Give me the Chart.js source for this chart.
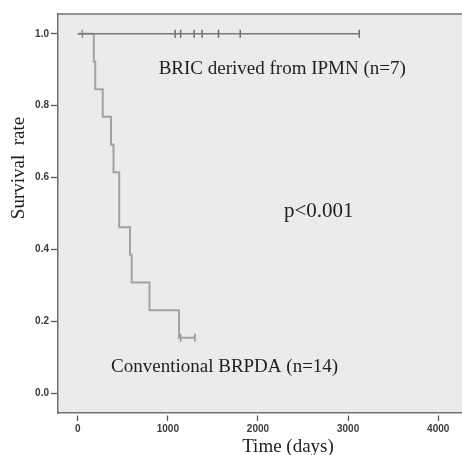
<!DOCTYPE html>
<html>
<head>
<style>
  html, body { margin: 0; padding: 0; background: #fff; overflow: hidden; }
</style>
</head>
<body>
<canvas id="kmChart" width="475" height="455"></canvas>

<script src="https://cdn.jsdelivr.net/npm/chart.js"></script>
<script>
// Kaplan-Meier values (days, survival)
const convTimes = [0, 178, 194, 277, 369, 397, 460, 580, 599, 796, 1124, 1300];
const convSurv = [1.0, 0.923, 0.846, 0.769, 0.692, 0.615, 0.462, 0.385, 0.308, 0.231, 0.154, 0.154];
const convCensorTimes = [51, 1142, 1300];
const convCensorSurv = [1.0, 0.154, 0.154];

const bricTimes = [0, 3124];
const bricSurv = [1.0, 1.0];
const bricCensorTimes = [1081, 1142, 1292, 1380, 1562, 1803, 3124];
const bricCensorSurv = [1.0, 1.0, 1.0, 1.0, 1.0, 1.0, 1.0];

const xTickValues = [0, 1000, 2000, 3000, 4000];
const yTickValues = [0.0, 0.2, 0.4, 0.6, 0.8, 1.0];

const xTitle = 'Time (days)';
const yTitle = 'Survival  rate';

// text notes placed in data units
const noteTexts = ['BRIC derived from IPMN (n=7)', 'p<0.001', 'Conventional BRPDA (n=14)'];
const noteDays = [898, 2288, 370];
const noteSurv = [0.903, 0.506, 0.072];

function pairs(xs, ys) {
  return xs.map((x, i) => ({ x: x, y: ys[i] }));
}

const serif = '"Liberation Serif", "Times New Roman", serif';

const framePlugin = {
  id: 'framePlugin',
  beforeDraw(chart) {
    const a = chart.chartArea;
    const ctx = chart.ctx;
    ctx.save();
    ctx.fillStyle = '#ebebeb';
    ctx.fillRect(a.left, a.top, a.right - a.left, a.bottom - a.top);
    ctx.restore();
  },
  afterDraw(chart) {
    const a = chart.chartArea;
    const ctx = chart.ctx;
    const xs = chart.scales.x, ys = chart.scales.y;
    ctx.save();
    // top border of the frame
    ctx.strokeStyle = '#707070';
    ctx.lineWidth = 1.5;
    ctx.beginPath();
    ctx.moveTo(a.left, a.top);
    ctx.lineTo(a.right, a.top);
    ctx.stroke();

    ctx.fillStyle = '#1e1e1e';
    ctx.textBaseline = 'middle';
    ctx.textAlign = 'left';
    noteTexts.forEach((t, i) => {
      ctx.font = (t === 'p<0.001' ? '21px ' : '19px ') + serif;
      ctx.fillText(t, xs.getPixelForValue(noteDays[i]), ys.getPixelForValue(noteSurv[i]));
    });

    // axis titles
    ctx.font = '19px ' + serif;
    ctx.textAlign = 'center';
    ctx.textBaseline = 'alphabetic';
    ctx.fillText(xTitle, 288, 452);
    ctx.translate(24, 168);
    ctx.rotate(-Math.PI / 2);
    ctx.fillText(yTitle, 0, 0);
    ctx.restore();
  }
};

const tickFont = { family: '"Liberation Sans", Arial, sans-serif', size: 10, weight: 'bold' };

new Chart(document.getElementById('kmChart').getContext('2d'), {
  type: 'scatter',
  data: {
    datasets: [
      {
        label: 'BRIC derived from IPMN',
        data: pairs(bricTimes, bricSurv),
        showLine: true,
        stepped: 'before',
        borderColor: '#7a7a7a',
        borderWidth: 1.6,
        pointRadius: 0
      },
      {
        label: 'BRIC censored',
        data: pairs(bricCensorTimes, bricCensorSurv),
        showLine: false,
        pointStyle: 'line',
        rotation: 90,
        pointRadius: 4,
        borderColor: '#6a6a6a',
        borderWidth: 1.5
      },
      {
        label: 'Conventional BRPDA',
        data: pairs(convTimes, convSurv),
        showLine: true,
        stepped: 'before',
        borderColor: '#a2a2a2',
        borderWidth: 2,
        pointRadius: 0
      },
      {
        label: 'Conventional censored',
        data: pairs(convCensorTimes, convCensorSurv),
        showLine: false,
        pointStyle: 'line',
        rotation: 90,
        pointRadius: 4,
        borderColor: '#909090',
        borderWidth: 1.5
      }
    ]
  },
  options: {
    responsive: false,
    animation: false,
    layout: { padding: { top: 14, left: 0, right: 0, bottom: 0 } },
    plugins: {
      legend: { display: false },
      tooltip: { enabled: false }
    },
    scales: {
      x: {
        type: 'linear',
        min: -219,
        max: 4347,
        afterBuildTicks: (s) => { s.ticks = xTickValues.map(v => ({ value: v })); },
        afterFit: (s) => { s.height = 42; },
        border: { display: true, color: '#707070', width: 1.5 },
        grid: {
          drawOnChartArea: false,
          drawTicks: true,
          tickLength: 8,
          tickColor: '#555',
          tickWidth: 1.3,
          tickBorderDash: [6, 100],
          tickBorderDashOffset: -2
        },
        ticks: {
          color: '#3a3a3a',
          font: tickFont,
          padding: 2,
          maxRotation: 0,
          callback: (v) => String(v)
        }
      },
      y: {
        type: 'linear',
        min: -0.055,
        max: 1.055,
        afterBuildTicks: (s) => { s.ticks = yTickValues.map(v => ({ value: v })); },
        afterFit: (s) => { s.width = 58; },
        border: { display: true, color: '#707070', width: 1.5 },
        grid: {
          drawOnChartArea: false,
          drawTicks: true,
          tickLength: 7,
          tickColor: '#555',
          tickWidth: 1.3
        },
        ticks: {
          color: '#3a3a3a',
          font: tickFont,
          padding: 2,
          callback: (v) => Number(v).toFixed(1)
        }
      }
    }
  },
  plugins: [framePlugin]
});
</script>
</body>
</html>
